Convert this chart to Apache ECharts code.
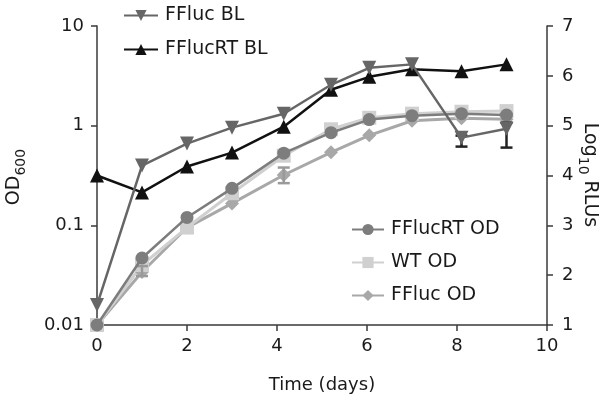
<!DOCTYPE html>
<html><head><meta charset="utf-8">
<script src="https://cdn.jsdelivr.net/npm/echarts@6/dist/echarts.min.js"></script>
<style>html,body{margin:0;padding:0;background:#fff}#c{width:608px;height:403px}</style>
</head><body><div id="c"></div>
<script>
var days = [0, 1, 2, 3, 4.15, 5.2, 6.05, 7, 8.1, 9.1];
var fflucBL = [1.4, 4.2, 4.64, 4.96, 5.24, 5.82, 6.16, 6.23, 4.76, 4.94];
var fflucRtBL = [4.0, 3.66, 4.18, 4.46, 4.98, 5.72, 5.98, 6.13, 6.09, 6.23];
var fflucRtOD = [0.01, 0.047, 0.12, 0.235, 0.53, 0.85, 1.15, 1.26, 1.32, 1.28];
var wtOD = [0.01, 0.04, 0.095, 0.21, 0.5, 0.92, 1.2, 1.32, 1.38, 1.4];
var fflucOD = [0.01, 0.034, 0.095, 0.166, 0.32, 0.54, 0.8, 1.12, 1.19, 1.16];
// error bars: [day, low, high]
var fflucBLErr = [[8.1, 4.58, 4.8], [9.1, 4.56, 5.06]];
var fflucODErr = [[1, 0.031, 0.039], [4.15, 0.265, 0.38]];
var xTicks = [0, 2, 4, 6, 8, 10];
var leftTicks = ['0.01', '0.1', '1', '10'];
var rightTicks = [1, 2, 3, 4, 5, 6, 7];

function pairs(xs, ys) { return xs.map(function (x, i) { return [x, ys[i]]; }); }
function errRender(color) {
  return function (params, api) {
    var x = api.value(0);
    var lo = api.coord([x, api.value(1)]);
    var hi = api.coord([x, api.value(2)]);
    var w = 6;
    var st = { stroke: color, lineWidth: 2.5 };
    return { type: 'group', children: [
      { type: 'line', shape: { x1: lo[0], y1: lo[1], x2: hi[0], y2: hi[1] }, style: st },
      { type: 'line', shape: { x1: lo[0] - w, y1: lo[1], x2: lo[0] + w, y2: lo[1] }, style: st },
      { type: 'line', shape: { x1: hi[0] - w, y1: hi[1], x2: hi[0] + w, y2: hi[1] }, style: st }
    ]};
  };
}
var FONT = 'DejaVu Sans';
var axisCol = '#3a3a3a';
var txtCol = '#1a1a1a';
var chart = echarts.init(document.getElementById('c'), null, { renderer: 'canvas' });
chart.setOption({
  animation: false,
  backgroundColor: '#fff',
  textStyle: { fontFamily: FONT },
  grid: { left: 97, right: 61, top: 26, bottom: 78 },
  xAxis: {
    type: 'value', min: 0, max: 10, interval: 2,
    axisLine: { lineStyle: { color: axisCol, width: 1.5 } },
    axisTick: { show: true, length: 6, lineStyle: { color: axisCol, width: 1.5 } },
    axisLabel: { color: txtCol, fontSize: 18, fontFamily: FONT, margin: 12,
      formatter: function (v) { return xTicks.indexOf(v) >= 0 ? String(v) : ''; } },
    splitLine: { show: false }
  },
  yAxis: [{
    type: 'log', logBase: 10, min: 0.01, max: 10,
    axisLine: { show: true, lineStyle: { color: axisCol, width: 1.5 } },
    axisTick: { show: true, length: 6, lineStyle: { color: axisCol, width: 1.5 } },
    axisLabel: { color: txtCol, fontSize: 18, fontFamily: FONT, margin: 13,
      formatter: function (v) { var s = String(+v.toPrecision(3)); return leftTicks.indexOf(s) >= 0 ? s : ''; } },
    splitLine: { show: false }
  }, {
    type: 'value', min: 1, max: 7, interval: 1, position: 'right',
    axisLine: { show: true, lineStyle: { color: axisCol, width: 1.5 } },
    axisTick: { show: true, length: 6, lineStyle: { color: axisCol, width: 1.5 } },
    axisLabel: { color: txtCol, fontSize: 18, fontFamily: FONT, margin: 15,
      formatter: function (v) { return rightTicks.indexOf(v) >= 0 ? String(v) : ''; } },
    splitLine: { show: false }
  }],
  legend: [{
    left: 118, top: 1, orient: 'vertical', itemGap: 15, itemWidth: 34, itemHeight: 14,
    textStyle: { fontSize: 19, color: txtCol, fontFamily: FONT, padding: [0, 0, 0, 2] },
    data: ['FFluc BL', 'FFlucRT BL']
  }, {
    left: 346, top: 215, orient: 'vertical', itemGap: 14, itemWidth: 32, itemHeight: 14,
    textStyle: { fontSize: 19, color: txtCol, fontFamily: FONT, padding: [0, 0, 0, 2] },
    data: ['FFlucRT OD', 'WT OD', 'FFluc OD']
  }],
  graphic: [
    { type: 'text', x: 14, y: 177, rotation: Math.PI / 2,
      style: { text: '{a|OD}{b|600}', align: 'center', verticalAlign: 'middle',
        rich: { a: { fontSize: 19, fontFamily: FONT, fill: txtCol, lineHeight: 28, verticalAlign: 'middle' },
                b: { fontSize: 14, fontFamily: FONT, fill: txtCol, lineHeight: 28, verticalAlign: 'bottom', padding: [12, 0, 0, 0] } } } },
    { type: 'text', x: 590, y: 175, rotation: -Math.PI / 2,
      style: { text: '{a|Log}{b|10}{a| RLUs}', align: 'center', verticalAlign: 'middle',
        rich: { a: { fontSize: 19, fontFamily: FONT, fill: txtCol, lineHeight: 28, verticalAlign: 'middle' },
                b: { fontSize: 14, fontFamily: FONT, fill: txtCol, lineHeight: 28, verticalAlign: 'bottom', padding: [12, 0, 0, 0] } } } },
    { type: 'text', x: 322, y: 385,
      style: { text: 'Time (days)', align: 'center', verticalAlign: 'middle', fontSize: 18, fontFamily: FONT, fill: txtCol } }
  ],
  series: [
    { name: 'FFluc OD', type: 'line', yAxisIndex: 0, data: pairs(days, fflucOD),
      symbol: 'diamond', symbolSize: 14, color: '#a8a8a8',
      lineStyle: { width: 3, color: '#a8a8a8' }, itemStyle: { color: '#a8a8a8' }, z: 2 },
    { name: 'WT OD', type: 'line', yAxisIndex: 0, data: pairs(days, wtOD),
      symbol: 'rect', symbolSize: 14, color: '#d0d0d0',
      lineStyle: { width: 3, color: '#d0d0d0' }, itemStyle: { color: '#d0d0d0' }, z: 2 },
    { name: 'FFlucRT OD', type: 'line', yAxisIndex: 0, data: pairs(days, fflucRtOD),
      symbol: 'circle', symbolSize: 13, color: '#7d7d7d',
      lineStyle: { width: 2.5, color: '#7d7d7d' }, itemStyle: { color: '#7d7d7d' }, z: 3 },
    { name: 'FFluc OD err', type: 'custom', yAxisIndex: 0, data: fflucODErr,
      renderItem: errRender('#9a9a9a'), z: 3, encode: { x: 0, y: [1, 2] } },
    { name: 'FFlucRT BL', type: 'line', yAxisIndex: 1, data: pairs(days, fflucRtBL),
      symbol: 'triangle', symbolSize: 14, color: '#111111',
      lineStyle: { width: 2.5, color: '#111111' }, itemStyle: { color: '#111111' }, z: 4 },
    { name: 'FFluc BL', type: 'line', yAxisIndex: 1, data: pairs(days, fflucBL),
      symbol: 'triangle', symbolRotate: 180, symbolSize: 14, color: '#666666',
      lineStyle: { width: 2.5, color: '#666666' }, itemStyle: { color: '#666666' }, z: 5 },
    { name: 'FFluc BL err', type: 'custom', yAxisIndex: 1, data: fflucBLErr,
      renderItem: errRender('#222222'), z: 5, encode: { x: 0, y: [1, 2] } }
  ]
});
</script></body></html>
